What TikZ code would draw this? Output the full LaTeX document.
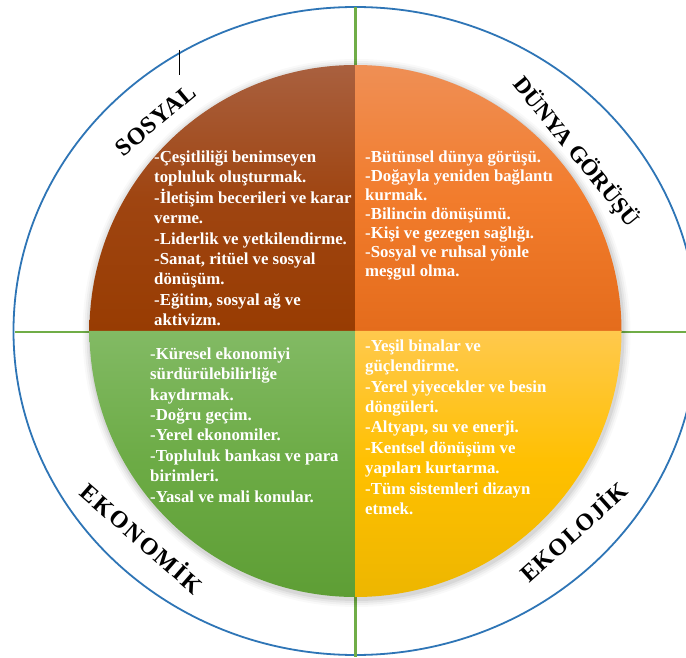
\documentclass[tikz,border=0pt]{standalone}
\usepackage{fontspec}
\setmainfont{Liberation Serif}
\usepackage{xcolor}
\usepackage{tikz}
\usetikzlibrary{calc}
\definecolor{ringblue}{HTML}{2E75B6}
\definecolor{axisgreen}{HTML}{70AD47}
\definecolor{brownTop}{HTML}{A9603F}
\definecolor{brownMid}{HTML}{9F4511}
\definecolor{brownBot}{HTML}{983C02}
\definecolor{orangeTop}{HTML}{EF8F55}
\definecolor{orangeMid}{HTML}{F27C2C}
\definecolor{orangeBot}{HTML}{E46C1C}
\definecolor{greenTop}{HTML}{82BA64}
\definecolor{greenMid}{HTML}{6CAB45}
\definecolor{greenBot}{HTML}{5E9E35}
\definecolor{goldTop}{HTML}{FFC94D}
\definecolor{goldMid}{HTML}{FFC000}
\definecolor{goldBot}{HTML}{EDB600}
\tikzset{
  itemtext/.style={text=white, font=\fontsize{16.8}{20.4}\selectfont\bfseries, align=left, anchor=north west, inner sep=0pt},
  ringlabel/.style={text=black, inner sep=0pt, text height=16pt, text depth=0pt, font=\fontsize{24}{24}\selectfont\bfseries}
}

\begin{document}
\begin{tikzpicture}[x=1pt,y=1pt]
    \useasboundingbox (0,0) rectangle (686,657);
    \fill[white] (0,0) rectangle (686,657);
    \coordinate (c) at (355.5,326);

    \draw[ringblue, line width=1.8pt] (c) ellipse[x radius=342pt, y radius=324pt];
    \draw[axisgreen, line width=2.6pt] (355.5,650) -- (355.5,0);
    \draw[axisgreen, line width=2.6pt] (15,325) -- (686,325);

    \foreach \d/\o in {8/0.025,6/0.035,4/0.045,2/0.06}
        \fill[black, opacity=\o] ([shift={(1pt,-2pt)}]c) circle[radius=266pt+\d pt];

    \shade[top color=brownTop, bottom color=brownBot, middle color=brownMid] (c) -- ++(90:266pt) arc[start angle=90, end angle=180, radius=266pt] -- cycle;
    \shade[top color=orangeTop, bottom color=orangeBot, middle color=orangeMid] (c) -- ++(0:266pt) arc[start angle=0, end angle=90, radius=266pt] -- cycle;
    \shade[top color=greenTop, bottom color=greenBot, middle color=greenMid] (c) -- ++(180:266pt) arc[start angle=180, end angle=270, radius=266pt] -- cycle;
    \shade[top color=goldTop, bottom color=goldBot, middle color=goldMid] (c) -- ++(270:266pt) arc[start angle=270, end angle=360, radius=266pt] -- cycle;

    \node[itemtext] (sosyalText) at (154,506.5) {-Çeşitliliği benimseyen\\topluluk oluşturmak.\\-İletişim becerileri ve karar\\verme.\\-Liderlik ve yetkilendirme.\\-Sanat, ritüel ve sosyal\\dönüşüm.\\-Eğitim, sosyal ağ ve\\aktivizm.};
    \node[itemtext, font=\fontsize{16.8}{19}\selectfont\bfseries] (dunyaText) at (365,506.5) {-Bütünsel dünya görüşü.\\-Doğayla yeniden bağlantı\\kurmak.\\-Bilincin dönüşümü.\\-Kişi ve gezegen sağlığı.\\-Sosyal ve ruhsal yönle\\meşgul olma.};
    \node[itemtext] (ekonomikText) at (150,309.5) {-Küresel ekonomiyi\\sürdürülebilirliğe\\kaydırmak.\\-Doğru geçim.\\-Yerel ekonomiler.\\-Topluluk bankası ve para\\birimleri.\\-Yasal ve mali konular.};
    \node[itemtext] (ekolojikText) at (365,317.5) {-Yeşil binalar ve\\güçlendirme.\\-Yerel yiyecekler ve besin\\döngüleri.\\-Altyapı, su ve enerji.\\-Kentsel dönüşüm ve\\yapıları kurtarma.\\-Tüm sistemleri dizayn\\etmek.};

    \node[ringlabel, rotate=40] (sosyalLabel) at (155.5,537) {\addfontfeature{LetterSpace=3}SOSYAL};
    \node[ringlabel, rotate=-50.7, font=\fontsize{23}{23}\selectfont\bfseries] (dunyaLabel) at (577,505.5) {DÜNYA GÖRÜŞÜ};
    \node[ringlabel, rotate=-41.1] (ekonomikLabel) at (141.5,118) {\addfontfeature{LetterSpace=8}EKONOMİK};
    \node[ringlabel, rotate=41.9] (ekolojikLabel) at (574,124.5) {\addfontfeature{LetterSpace=4}EKOLOJİK};

    \draw[black, line width=0.8pt] (179,607) -- (179,582);
\end{tikzpicture}
\end{document}
